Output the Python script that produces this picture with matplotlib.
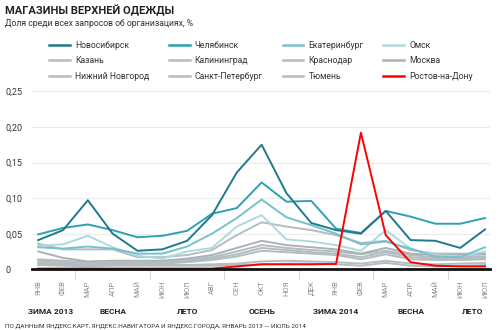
import numpy as np
import matplotlib
matplotlib.use("Agg")
import matplotlib.pyplot as plt

plt.rcParams['font.family'] = ['Roboto', 'DejaVu Sans']

months = ["ЯНВ", "ФЕВ", "МАР", "АПР", "МАЙ", "ИЮН", "ИЮЛ", "АВГ", "СЕН", "ОКТ",
          "НОЯ", "ДЕК", "ЯНВ", "ФЕВ", "МАР", "АПР", "МАЙ", "ИЮН", "ИЮЛ"]
seasons = ["ЗИМА 2013", "ВЕСНА", "ЛЕТО", "ОСЕНЬ", "ЗИМА 2014", "ВЕСНА", "ЛЕТО"]
season_pos = [0.5, 3, 6, 9, 12, 15, 17.5]
season_breaks = [1.5, 4.5, 7.5, 10.5, 13.5, 16.5]

novosibirsk = [0.041, 0.055, 0.097, 0.050, 0.026, 0.028, 0.040, 0.076, 0.136, 0.175,
               0.107, 0.065, 0.055, 0.050, 0.082, 0.041, 0.040, 0.030, 0.056]
chelyabinsk = [0.049, 0.058, 0.063, 0.055, 0.045, 0.047, 0.054, 0.078, 0.086, 0.122,
               0.095, 0.096, 0.057, 0.051, 0.082, 0.074, 0.064, 0.064, 0.072]
ekaterinburg = [0.031, 0.029, 0.032, 0.029, 0.022, 0.022, 0.032, 0.050, 0.072, 0.098,
                0.073, 0.062, 0.050, 0.035, 0.039, 0.029, 0.018, 0.017, 0.031]
omsk = [0.033, 0.035, 0.047, 0.031, 0.019, 0.015, 0.025, 0.030, 0.060, 0.076,
        0.042, 0.039, 0.034, 0.026, 0.055, 0.029, 0.020, 0.018, 0.025]
kazan = [0.036, 0.028, 0.028, 0.028, 0.017, 0.017, 0.020, 0.027, 0.048, 0.066,
         0.060, 0.055, 0.048, 0.037, 0.040, 0.027, 0.022, 0.022, 0.022]
kaliningrad = [0.008, 0.006, 0.006, 0.006, 0.006, 0.006, 0.006, 0.007, 0.008, 0.011,
               0.012, 0.011, 0.010, 0.008, 0.012, 0.008, 0.007, 0.008, 0.009]
krasnodar = [0.014, 0.012, 0.010, 0.010, 0.010, 0.011, 0.013, 0.017, 0.025, 0.034,
             0.030, 0.027, 0.025, 0.021, 0.026, 0.020, 0.017, 0.017, 0.018]
moscow = [0.025, 0.016, 0.011, 0.012, 0.012, 0.012, 0.015, 0.020, 0.030, 0.040,
          0.034, 0.031, 0.028, 0.022, 0.030, 0.022, 0.020, 0.020, 0.021]
nizhny = [0.012, 0.010, 0.009, 0.010, 0.010, 0.010, 0.012, 0.015, 0.021, 0.030,
          0.027, 0.024, 0.022, 0.017, 0.024, 0.017, 0.015, 0.015, 0.016]
spb = [0.010, 0.008, 0.007, 0.008, 0.008, 0.008, 0.010, 0.013, 0.018, 0.026,
       0.024, 0.022, 0.020, 0.014, 0.021, 0.014, 0.013, 0.013, 0.014]
tyumen = [0.006, 0.005, 0.004, 0.005, 0.005, 0.005, 0.005, 0.005, 0.006, 0.007,
          0.008, 0.008, 0.007, 0.005, 0.009, 0.005, 0.004, 0.005, 0.006]
rostov = [0.001, 0.001, 0.001, 0.001, 0.001, 0.001, 0.001, 0.001, 0.004, 0.007,
          0.007, 0.007, 0.0075, 0.192, 0.048, 0.010, 0.005, 0.004, 0.004]

fig = plt.figure(figsize=(5, 3.3), dpi=100)
ax = fig.add_axes([0.064, 0.184, 0.916, 0.55])

x = np.arange(len(months))
gray = '#b3bdc0'
series = [
    ("Новосибирск", novosibirsk, '#1f7a8c'),
    ("Челябинск", chelyabinsk, '#2fa0b3'),
    ("Екатеринбург", ekaterinburg, '#78c0cc'),
    ("Омск", omsk, '#aed9e1'),
    ("Казань", kazan, gray),
    ("Калининград", kaliningrad, gray),
    ("Краснодар", krasnodar, gray),
    ("Москва", moscow, '#a9b2b5'),
    ("Нижний Новгород", nizhny, gray),
    ("Санкт-Петербург", spb, gray),
    ("Тюмень", tyumen, gray),
    ("Ростов-на-Дону", rostov, '#ff0000'),
]
zorder = {"Новосибирск": 6, "Челябинск": 5, "Екатеринбург": 4, "Омск": 3, "Ростов-на-Дону": 7}

handles = []
for name, vals, col in series:
    ln, = ax.plot(x, vals, color=col, lw=1.4, zorder=zorder.get(name, 2), label=name)
    handles.append(ln)

ax.set_xlim(-0.25, 18.2)
ax.set_ylim(0, 0.255)
ax.set_yticks([0, 0.05, 0.10, 0.15, 0.20, 0.25])
ax.set_yticklabels(["0", "0,05", "0,10", "0,15", "0,20", "0,25"])
ax.grid(axis='y', color='#ececec', lw=0.8)
ax.set_axisbelow(True)
for s in ['top', 'right', 'left']:
    ax.spines[s].set_visible(False)
ax.spines['bottom'].set_color('#111111')
ax.spines['bottom'].set_linewidth(2)
ax.spines['bottom'].set_zorder(8)
ax.tick_params(axis='y', length=0, labelsize=6.5, colors='#333333', pad=19)
for lbl in ax.get_yticklabels():
    lbl.set_horizontalalignment('left')

ax.set_xticks(x)
ax.set_xticklabels(months, rotation=90, fontsize=5.5, color='#8c8c8c')
ax.tick_params(axis='x', which='major', length=0, pad=8)
ax.set_xticks(season_breaks, minor=True)
ax.tick_params(axis='x', which='minor', length=7, width=0.8, color='#d5d5d5')

for pos, s in zip(season_pos, seasons):
    ax.annotate(s, xy=(pos, 1 - 311 / 330), xycoords=('data', 'figure fraction'),
                ha='center', va='center', fontsize=6, fontweight='bold', color='#222222')

fig.text(0.01, 0.968, "МАГАЗИНЫ ВЕРХНЕЙ ОДЕЖДЫ", fontsize=8, fontweight='bold',
         color='#222222', va='center')
fig.text(0.01, 0.928, "Доля среди всех запросов об организациях, %", fontsize=6.2,
         color='#333333', va='center')
fig.text(0.01, 0.015, "ПО ДАННЫМ ЯНДЕКС.КАРТ, ЯНДЕКС.НАВИГАТОРА И ЯНДЕКС.ГОРОДА, ЯНВАРЬ 2013 — ИЮЛЬ 2014",
         fontsize=4.55, color='#333333', va='center')

# column-major order for a 4-column legend
order = [0, 4, 8, 1, 5, 9, 2, 6, 10, 3, 7, 11]
leg = fig.legend([handles[i] for i in order], [series[i][0] for i in order],
                 ncol=4, loc='upper left', bbox_to_anchor=(0.098, 0.876), frameon=False,
                 fontsize=6.2, handlelength=2.4, handletextpad=0.6, columnspacing=2.3,
                 labelspacing=0.75, borderaxespad=0, borderpad=0)
for t in leg.get_texts():
    t.set_color('#333333')
for h in leg.legend_handles:
    h.set_linewidth(1.8)

fig.savefig("out.png", dpi=100)
